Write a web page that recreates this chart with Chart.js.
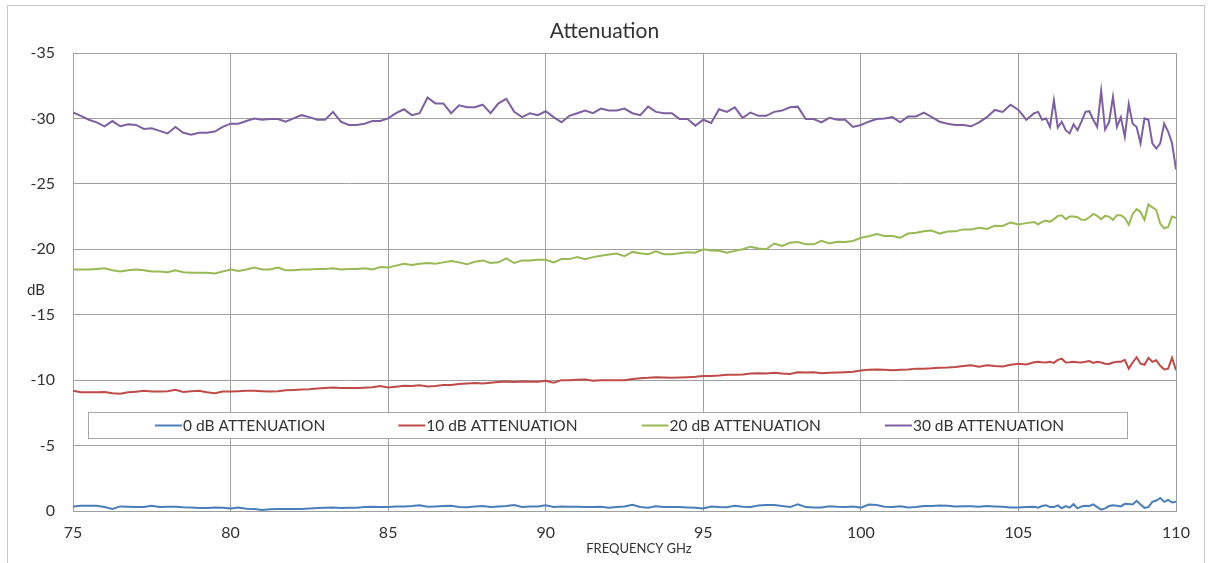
<!DOCTYPE html>
<html><head><meta charset="utf-8">
<script src="https://cdn.jsdelivr.net/npm/chart.js@4.4.1/dist/chart.umd.min.js"></script>
<style>html,body{margin:0;padding:0;background:#fff;}canvas{display:block;}</style>
</head><body>
<canvas id="c" width="1209" height="563"></canvas>
<script>
const freqs = [
75,75.25,75.5,75.75, 76,76.25,76.5,76.75, 77,77.25,77.5,77.75, 78,78.25,78.5,78.75,
79,79.25,79.5,79.75, 80,80.25,80.5,80.75, 81,81.25,81.5,81.75, 82,82.25,82.5,82.75,
83,83.25,83.5,83.75, 84,84.25,84.5,84.75, 85,85.25,85.5,85.75, 86,86.25,86.5,86.75,
87,87.25,87.5,87.75, 88,88.25,88.5,88.75, 89,89.25,89.5,89.75, 90,90.25,90.5,90.75,
91,91.25,91.5,91.75, 92,92.25,92.5,92.75, 93,93.25,93.5,93.75, 94,94.25,94.5,94.75,
95,95.25,95.5,95.75, 96,96.25,96.5,96.75, 97,97.25,97.5,97.75, 98,98.25,98.5,98.75,
99,99.25,99.5,99.75, 100,100.25,100.5,100.75, 101,101.25,101.5,101.75, 102,102.25,102.5,102.75,
103,103.25,103.5,103.75, 104,104.25,104.5,104.75, 105,105.25,105.5,
105.625,105.75,105.875,106,
106.125,106.25,106.375,106.5,106.625,106.75,106.875,107,
107.125,107.25,107.375,107.5,107.625,107.75,107.875,108,
108.125,108.25,108.375,108.5,108.625,108.75,108.875,109,
109.125,109.25,109.375,109.5,109.625,109.75,109.875,110
];

const att0 = [
-0.35,-0.4,-0.4,-0.4, -0.3,-0.15,-0.35,-0.32, -0.3,-0.3,-0.4,-0.3, -0.33,-0.33,-0.28,-0.27,
-0.22,-0.22,-0.27,-0.24, -0.19,-0.27,-0.18,-0.16, -0.08,-0.14,-0.16,-0.16, -0.16,-0.16,-0.2,-0.22,
-0.24,-0.27,-0.22,-0.25, -0.25,-0.3,-0.32,-0.3, -0.3,-0.35,-0.35,-0.38, -0.44,-0.33,-0.35,-0.38,
-0.4,-0.3,-0.28,-0.35, -0.38,-0.3,-0.35,-0.38, -0.45,-0.3,-0.35,-0.35, -0.44,-0.3,-0.35,-0.33,
-0.32,-0.3,-0.3,-0.32, -0.25,-0.3,-0.35,-0.47, -0.3,-0.25,-0.37,-0.3, -0.3,-0.3,-0.27,-0.25,
-0.2,-0.35,-0.3,-0.28, -0.4,-0.33,-0.3,-0.42, -0.45,-0.45,-0.38,-0.3, -0.52,-0.3,-0.26,-0.26,
-0.36,-0.32,-0.3,-0.35, -0.26,-0.5,-0.45,-0.33, -0.3,-0.37,-0.27,-0.3, -0.38,-0.38,-0.42,-0.4,
-0.35,-0.37,-0.37,-0.32, -0.38,-0.35,-0.32,-0.26, -0.26,-0.3,-0.33,
-0.25,-0.38,-0.43,-0.3,
-0.3,-0.43,-0.2,-0.38,-0.26,-0.52,-0.2,-0.35,
-0.4,-0.38,-0.5,-0.3,-0.1,-0.2,-0.38,-0.43,
-0.4,-0.35,-0.55,-0.53,-0.5,-0.78,-0.5,-0.24,
-0.3,-0.7,-0.8,-1.0,-0.7,-0.85,-0.65,-0.7
];

const att10 = [
-9.2,-9.07,-9.07,-9.07, -9.1,-9.0,-8.96,-9.07, -9.12,-9.18,-9.13,-9.13, -9.15,-9.26,-9.1,-9.15,
-9.18,-9.07,-9.0,-9.13, -9.13,-9.15,-9.18,-9.18, -9.15,-9.13,-9.15,-9.23, -9.25,-9.28,-9.3,-9.37,
-9.4,-9.43,-9.4,-9.4, -9.4,-9.42,-9.45,-9.55, -9.43,-9.5,-9.58,-9.55, -9.6,-9.52,-9.55,-9.62,
-9.63,-9.7,-9.75,-9.78, -9.75,-9.8,-9.85,-9.9, -9.85,-9.9,-9.88,-9.87, -9.95,-9.8,-10.0,-10.0,
-10.03,-10.05,-9.95,-10.0, -10.0,-10.0,-10.0,-10.09, -10.15,-10.18,-10.23,-10.2, -10.18,-10.2,-10.23,-10.26,
-10.32,-10.32,-10.35,-10.41, -10.41,-10.44,-10.5,-10.53, -10.5,-10.56,-10.5,-10.47, -10.61,-10.58,-10.61,-10.53,
-10.56,-10.58,-10.61,-10.64, -10.73,-10.79,-10.82,-10.79, -10.76,-10.79,-10.82,-10.88, -10.88,-10.9,-10.94,-10.96,
-11.0,-11.08,-11.14,-11.02, -11.14,-11.08,-11.05,-11.17, -11.26,-11.2,-11.37,
-11.4,-11.37,-11.35,-11.4,
-11.32,-11.55,-11.64,-11.35,-11.37,-11.4,-11.37,-11.35,
-11.4,-11.46,-11.32,-11.4,-11.35,-11.26,-11.23,-11.35,
-11.4,-11.4,-11.55,-10.88,-11.35,-11.75,-11.26,-11.17,
-11.7,-11.4,-11.52,-11.1,-10.82,-10.88,-11.7,-10.76
];

const att20 = [
-18.45,-18.45,-18.45,-18.5, -18.55,-18.4,-18.3,-18.4, -18.45,-18.4,-18.3,-18.3, -18.25,-18.4,-18.25,-18.2,
-18.2,-18.2,-18.15,-18.3, -18.45,-18.35,-18.45,-18.6, -18.45,-18.45,-18.6,-18.4, -18.4,-18.45,-18.45,-18.5,
-18.5,-18.55,-18.45,-18.5, -18.5,-18.55,-18.45,-18.65, -18.6,-18.75,-18.9,-18.8, -18.9,-18.95,-18.9,-19.0,
-19.1,-19.0,-18.85,-19.05, -19.15,-18.95,-19.0,-19.3, -18.95,-19.15,-19.15,-19.2, -19.2,-19.0,-19.25,-19.25,
-19.4,-19.25,-19.4,-19.5, -19.6,-19.68,-19.47,-19.8, -19.7,-19.62,-19.85,-19.62, -19.62,-19.7,-19.77,-19.74,
-20.0,-19.9,-19.88,-19.74, -19.88,-20.0,-20.2,-20.06, -20.0,-20.44,-20.26,-20.5, -20.55,-20.38,-20.38,-20.64,
-20.44,-20.58,-20.55,-20.64, -20.88,-21.0,-21.17,-21.02, -21.02,-20.88,-21.2,-21.26, -21.37,-21.43,-21.2,-21.35,
-21.37,-21.52,-21.52,-21.64, -21.55,-21.8,-21.78,-22.05, -21.9,-22.0,-22.08,
-21.9,-22.1,-22.2,-22.1,
-22.3,-22.55,-22.6,-22.3,-22.5,-22.5,-22.45,-22.25,
-22.25,-22.45,-22.7,-22.55,-22.3,-22.55,-22.5,-22.25,
-22.6,-22.6,-22.4,-21.87,-22.7,-23.07,-22.85,-22.25,
-23.42,-23.2,-23.0,-21.95,-21.6,-21.7,-22.5,-22.4
];

const att30 = [
-30.45,-30.2,-29.9,-29.7, -29.4,-29.8,-29.4,-29.55, -29.5,-29.2,-29.25,-29.05, -28.85,-29.35,-28.9,-28.75,
-28.9,-28.9,-29.0,-29.35, -29.6,-29.6,-29.8,-30.0, -29.9,-29.95,-29.95,-29.75, -30.0,-30.25,-30.1,-29.9,
-29.9,-30.5,-29.75,-29.5, -29.5,-29.6,-29.8,-29.8, -30.0,-30.4,-30.7,-30.25, -30.4,-31.6,-31.15,-31.15,
-30.4,-31.0,-30.85,-30.85, -31.05,-30.4,-31.15,-31.5, -30.5,-30.1,-30.4,-30.25, -30.55,-30.1,-29.7,-30.2,
-30.4,-30.6,-30.4,-30.75, -30.6,-30.6,-30.75,-30.4, -30.25,-30.9,-30.5,-30.4, -30.4,-29.95,-29.95,-29.45,
-29.9,-29.65,-30.7,-30.5, -30.85,-30.05,-30.45,-30.2, -30.2,-30.5,-30.6,-30.85, -30.9,-29.95,-29.95,-29.7,
-30.05,-29.9,-29.9,-29.35, -29.5,-29.75,-29.95,-30.0, -30.1,-29.7,-30.15,-30.15, -30.45,-30.1,-29.75,-29.6,
-29.5,-29.5,-29.4,-29.7, -30.1,-30.65,-30.5,-31.05, -30.65,-29.9,-30.4,
-30.5,-29.9,-30.0,-29.35,
-31.4,-29.3,-29.75,-29.1,-28.85,-29.55,-29.1,-29.75,
-30.5,-30.55,-29.9,-29.35,-32.1,-29.15,-29.7,-31.65,
-29.35,-30.1,-28.6,-31.1,-29.6,-29.35,-28.1,-30.0,
-29.9,-28.1,-27.7,-28.1,-29.6,-29.0,-28.1,-26.1
];

const seriesLabels = ['0 dB ATTENUATION','10 dB ATTENUATION','20 dB ATTENUATION','30 dB ATTENUATION'];
const seriesColors = ['#4a7ebb','#be4b48','#98b954','#7d60a0'];
const seriesValues = [att0, att10, att20, att30];
const xTicks = [75,80,85,90,95,100,105,110];
const yTicks = [-35,-30,-25,-20,-15,-10,-5,0];
const chartTitle = 'Attenuation';
const xTitle = 'FREQUENCY GHz';
const yTitle = 'dB';

const FONT = 'Lato, "Open Sans", sans-serif';
const TXT = '#333333';
const GRID = '#a0a0a0';

const frame = {
  id: 'frame',
  beforeDraw(chart) {
    const ctx = chart.ctx;
    ctx.save();
    ctx.fillStyle = '#ffffff';
    ctx.fillRect(0, 0, chart.width, chart.height);
    ctx.strokeStyle = '#c8c8c8';
    ctx.lineWidth = 1;
    ctx.strokeRect(7.5, 5.5, 1197, 620);
    ctx.restore();
  },
  afterDraw(chart) {
    const ctx = chart.ctx;
    ctx.save();
    const lx = 88.5, ly = 412.5, lw = 1039, lh = 26;
    ctx.fillStyle = '#ffffff';
    ctx.fillRect(lx, ly, lw, lh);
    ctx.strokeStyle = '#a6a6a6';
    ctx.lineWidth = 1;
    ctx.strokeRect(lx, ly, lw, lh);
    ctx.font = '15.5px ' + FONT;
    ctx.textBaseline = 'middle';
    ctx.textAlign = 'left';
    chart.data.datasets.forEach((ds, i) => {
      const x0 = 155 + i * 243.3;
      const yc = ly + lh / 2;
      ctx.strokeStyle = ds.borderColor;
      ctx.lineWidth = 2;
      ctx.beginPath();
      ctx.moveTo(x0, yc);
      ctx.lineTo(x0 + 27, yc);
      ctx.stroke();
      ctx.fillStyle = TXT;
      ctx.fillText(ds.label, x0 + 28, yc + 0.5);
    });
    ctx.font = '13px ' + FONT;
    const tw = ctx.measureText(xTitle).width;
    const cx = 639, cy = 548.5;
    ctx.fillStyle = '#ffffff';
    ctx.fillRect(cx - tw / 2 - 3, cy - 9, tw + 6, 18);
    ctx.fillStyle = TXT;
    ctx.textAlign = 'center';
    ctx.fillText(xTitle, cx, cy);
    ctx.font = '15px ' + FONT;
    ctx.fillText(yTitle, 36, 290);
    ctx.restore();
  }
};

new Chart(document.getElementById('c'), {
  type: 'line',
  data: {
    datasets: seriesValues.map((vals, i) => ({
      label: seriesLabels[i],
      data: freqs.map((f, k) => ({x: f, y: vals[k]})),
      borderColor: seriesColors[i],
      backgroundColor: seriesColors[i],
      borderWidth: 2,
      pointRadius: 0,
      tension: 0,
      fill: false
    }))
  },
  options: {
    responsive: false,
    animation: false,
    devicePixelRatio: 1,
    layout: {padding: {left: 0, right: 0, top: 0, bottom: 0}},
    plugins: {
      legend: {display: false},
      tooltip: {enabled: false},
      title: {
        display: true, text: chartTitle, color: TXT,
        font: {family: FONT, size: 21, weight: 'normal'},
        padding: {top: 19, bottom: 8.8}
      }
    },
    scales: {
      x: {
        type: 'linear', min: 75, max: 110,
        afterBuildTicks: s => { s.ticks = xTicks.map(v => ({value: v})); },
        ticks: {color: TXT, font: {family: FONT, size: 16}, padding: 12, maxRotation: 0},
        grid: {color: GRID, drawTicks: false, lineWidth: 1},
        border: {display: true, color: GRID},
        afterFit: s => { s.height = 52; }
      },
      y: {
        type: 'linear', reverse: true, min: -35, max: 0,
        afterBuildTicks: s => { s.ticks = yTicks.map(v => ({value: v})); },
        ticks: {color: TXT, font: {family: FONT, size: 16}, padding: 18},
        grid: {color: GRID, drawTicks: false, lineWidth: 1},
        border: {display: true, color: GRID},
        afterFit: s => { s.width = 73; }
      },
      yR: {
        type: 'linear', position: 'right', display: true,
        ticks: {display: false}, grid: {display: false}, border: {display: false},
        afterFit: s => { s.width = 33; }
      }
    }
  },
  plugins: [frame]
});
</script>
</body></html>
